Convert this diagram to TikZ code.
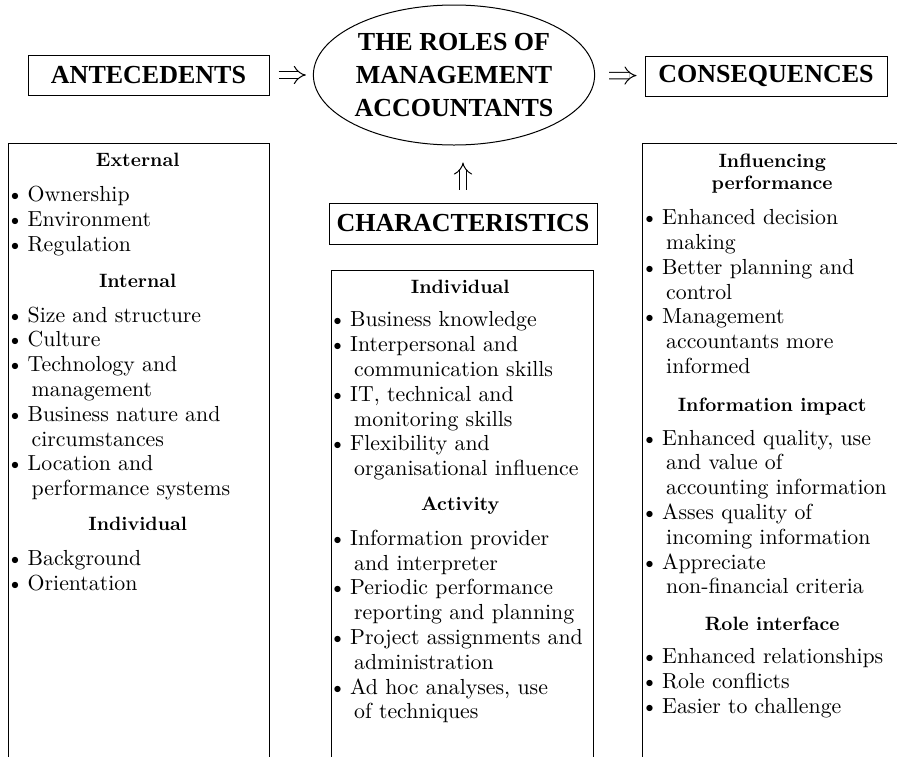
\documentclass[tikz,border=0pt]{standalone}
\usepackage{fontspec}
\usepackage{tikz}
\usetikzlibrary{shapes.geometric,arrows.meta}
\newfontfamily\hdfont{Liberation Serif}
\newfontfamily\lmten{lmroman10-regular}[Extension=.otf,BoldFont=lmroman10-bold]
\newcommand{\bul}{\makebox[18pt][l]{\hspace*{-3pt}\textbullet}}
\newcommand{\cont}{\hspace*{22pt}}
\newcommand{\subhd}[1]{\makebox[\linewidth]{\fontsize{19.3}{24.8}\selectfont\bfseries #1}}

\begin{document}
\begin{tikzpicture}
  [x=1pt,y=-1pt,
   headbox/.style={draw,line width=1pt,inner sep=0pt,font=\hdfont\bfseries\fontsize{26}{33}\selectfont},
   listtext/.style={anchor=base west,inner sep=0pt,text width=256pt,align=left,font=\lmten\fontsize{21.8}{24.8}\selectfont},
   imp/.style={double,double distance=5.5pt,line width=1pt,-{Implies}}]
  \useasboundingbox (0,0) rectangle (897,756);
  \clip (0,0) rectangle (897,756);

  \node [headbox,minimum width=241pt,minimum height=40pt] (ante) at (148.5,75) {ANTECEDENTS};
  \node [headbox,ellipse,minimum width=278pt,minimum height=140pt,align=center] (roles) at (454,75) {THE ROLES OF\\MANAGEMENT\\ACCOUNTANTS};
  \node [headbox,minimum width=242pt,minimum height=40pt] (cons) at (766,76) {CONSEQUENCES};
  \node [headbox,minimum width=268pt,minimum height=41pt] (chars) at (463,223.5) {CHARACTERISTICS};

  \draw [imp,shorten <=9pt,shorten >=7pt] (ante) -- (roles);
  \draw [imp,shorten <=14pt,shorten >=8pt] (roles) -- (cons);
  \draw [imp,shorten <=13pt,shorten >=17pt] (chars.north) -- (chars.north |- roles.south);

  % the three lists
  \draw [line width=1pt] (8,143) rectangle (269,770);
  \draw [line width=1pt] (331,270) rectangle (593,770);
  \draw [line width=1pt] (642,143) rectangle (910,770);

  \node [listtext] (antelist) at (9.5,166) {\subhd{External}\\[11pt]
    \bul Ownership\\
    \bul Environment\\
    \bul Regulation\\[11pt]
    \subhd{Internal}\\[10pt]
    \bul Size and structure\\
    \bul Culture\\
    \bul Technology and\\
    \cont management\\
    \bul Business nature and\\
    \cont circumstances\\
    \bul Location and\\
    \cont performance systems\\[10pt]
    \subhd{Individual}\\[10pt]
    \bul Background\\
    \bul Orientation};

  \node [listtext] (charlist) at (332,293) {\subhd{Individual}\\[9pt]
    \bul Business knowledge\\
    \bul Interpersonal and\\
    \cont communication skills\\
    \bul IT, technical and\\
    \cont monitoring skills\\
    \bul Flexibility and\\
    \cont organisational influence\\[10pt]
    \subhd{Activity}\\[10pt]
    \bul Information provider\\
    \cont and interpreter\\
    \bul Periodic performance\\
    \cont reporting and planning\\
    \bul Project assignments and\\
    \cont administration\\
    \bul Ad hoc analyses, use\\
    \cont of techniques};

  \node [listtext] (conslist) at (644,167) {\subhd{Influencing}\\[-2pt]
    \subhd{performance}\\[10pt]
    \bul Enhanced decision\\
    \cont making\\
    \bul Better planning and\\
    \cont control\\
    \bul Management\\
    \cont accountants more\\
    \cont informed\\[13pt]
    \subhd{Information impact}\\[9pt]
    \bul Enhanced quality, use\\
    \cont and value of\\
    \cont accounting information\\
    \bul Asses quality of\\
    \cont incoming information\\
    \bul Appreciate\\
    \cont non-financial criteria\\[12pt]
    \subhd{Role interface}\\[8pt]
    \bul Enhanced relationships\\
    \bul Role conflicts\\
    \bul Easier to challenge};

\end{tikzpicture}
\end{document}
